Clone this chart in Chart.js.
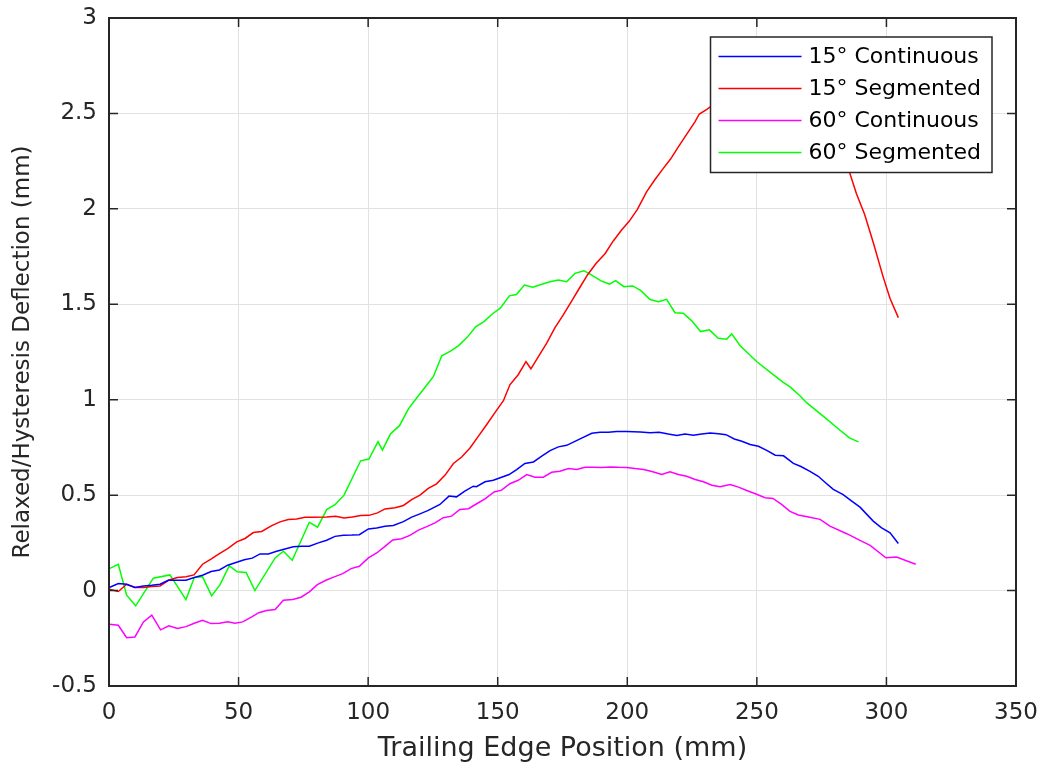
<!DOCTYPE html>
<html>
<head>
<meta charset="utf-8">
<title>Relaxed/Hysteresis Deflection</title>
<script src="https://cdn.jsdelivr.net/npm/chart.js@4.4.1/dist/chart.umd.min.js"></script>
<style>
    html, body { margin: 0; padding: 0; background: #fff; }
    canvas { display: block; }
</style>
</head>
<body>
<canvas id="deflectionChart" width="1039" height="769"></canvas>
<script>
const seriesNames = ['15° Continuous', '15° Segmented', '60° Continuous', '60° Segmented'];
const seriesColors = ['#0000ff', '#ff0000', '#ff00ff', '#00ff00'];

const xTicks = [0, 50, 100, 150, 200, 250, 300, 350];
const yTicks = [-0.5, 0, 0.5, 1, 1.5, 2, 2.5, 3];

// 15° Continuous
const cont15X = [0.1, 3.6, 6.8, 10.0, 13.3, 16.5, 19.7, 22.9, 26.4, 29.7, 32.9, 36.1, 39.4, 42.6, 45.8, 49.0, 52.2, 55.3, 58.3, 61.5,
    64.7, 67.9, 71.1, 74.4, 77.3, 80.8, 84.0, 87.2, 90.5, 93.7, 96.6, 100.1, 103.3, 106.5, 109.7, 113.6, 116.8, 120.0, 123.2, 127.7,
    131.2, 134.1, 137.3, 140.6, 141.8, 145.1, 148.3, 151.5, 154.4, 157.3, 160.5, 163.8, 167.0, 170.2, 173.4, 176.6, 179.8, 183.0, 186.3, 189.5,
    192.7, 195.9, 199.8, 205.0, 208.8, 212.3, 215.8, 219.1, 222.3, 225.5, 228.7, 232.0, 235.2, 238.1, 241.3, 244.2, 247.4, 250.6, 253.8, 257.1,
    260.3, 264.1, 267.0, 270.5, 273.7, 276.5, 279.5, 283.3, 286.5, 289.8, 294.9, 298.0, 301.4, 304.6];
const cont15Y = [0.016, 0.037, 0.033, 0.016, 0.024, 0.028, 0.033, 0.054, 0.054, 0.054, 0.068, 0.080, 0.100, 0.108, 0.133, 0.147, 0.161, 0.170, 0.192, 0.192,
    0.206, 0.218, 0.229, 0.232, 0.232, 0.250, 0.264, 0.284, 0.290, 0.291, 0.293, 0.323, 0.328, 0.337, 0.341, 0.361, 0.385, 0.402, 0.420, 0.451,
    0.495, 0.491, 0.521, 0.547, 0.544, 0.570, 0.578, 0.594, 0.608, 0.634, 0.666, 0.674, 0.704, 0.733, 0.753, 0.761, 0.782, 0.803, 0.824, 0.829,
    0.829, 0.834, 0.833, 0.831, 0.827, 0.830, 0.820, 0.812, 0.820, 0.814, 0.820, 0.826, 0.822, 0.817, 0.794, 0.782, 0.765, 0.756, 0.735, 0.709,
    0.706, 0.666, 0.650, 0.625, 0.599, 0.565, 0.530, 0.503, 0.470, 0.437, 0.364, 0.330, 0.303, 0.247];

// 15° Segmented (part behind the legend is estimated)
const seg15X = [0.1, 3.6, 6.8, 10.0, 13.3, 16.5, 19.7, 22.9, 26.4, 29.7, 32.8, 36.1, 39.2, 42.6, 45.8, 49.3, 52.5, 55.7, 58.9, 62.8,
    66.0, 69.2, 72.4, 75.6, 78.8, 84.0, 87.5, 90.7, 93.9, 97.1, 100.4, 103.6, 106.5, 110.4, 113.6, 116.8, 120.0, 123.2, 126.4, 129.7,
    132.9, 136.1, 139.3, 142.5, 145.7, 149.0, 152.2, 154.7, 157.9, 160.9, 162.8, 165.7, 168.9, 172.1, 175.3, 178.4, 181.5, 184.7, 188.0, 191.4,
    194.6, 197.8, 200.8, 203.9, 207.5, 210.7, 213.9, 216.7, 219.7, 222.9, 226.1, 227.8, 230.7, 232.6, 237, 242, 248, 254, 259, 264,
    270, 276, 281, 285.8, 288.4, 291.6, 295.0, 298.7, 301.4, 304.6];
const seg15Y = [0.007, -0.005, 0.033, 0.016, 0.016, 0.021, 0.024, 0.054, 0.068, 0.072, 0.082, 0.138, 0.164, 0.194, 0.220, 0.255, 0.273, 0.304, 0.310, 0.340,
    0.360, 0.372, 0.375, 0.384, 0.384, 0.386, 0.389, 0.380, 0.386, 0.393, 0.394, 0.407, 0.428, 0.434, 0.446, 0.477, 0.500, 0.535, 0.559, 0.605,
    0.666, 0.700, 0.747, 0.808, 0.869, 0.934, 0.995, 1.078, 1.131, 1.200, 1.162, 1.226, 1.296, 1.378, 1.444, 1.514, 1.584, 1.655, 1.715, 1.765,
    1.832, 1.889, 1.936, 1.997, 2.090, 2.154, 2.212, 2.261, 2.325, 2.390, 2.456, 2.497, 2.521, 2.540, 2.60, 2.67, 2.73, 2.77, 2.78, 2.72,
    2.56, 2.42, 2.30, 2.19, 2.08, 1.97, 1.82, 1.645, 1.53, 1.43];

// 60° Continuous
const cont60X = [0.1, 3.6, 6.8, 10.0, 13.3, 16.5, 19.9, 23.1, 26.4, 29.7, 32.9, 36.1, 39.4, 42.6, 45.8, 48.6, 51.6, 55.1, 57.8, 60.8,
    64.1, 67.3, 70.9, 74.1, 77.3, 80.4, 83.7, 86.9, 90.2, 93.4, 96.6, 100.1, 103.3, 106.5, 109.5, 112.9, 116.1, 119.4, 122.6, 125.8,
    129.0, 132.2, 135.4, 138.7, 141.9, 145.1, 148.6, 151.5, 154.7, 157.9, 161.2, 164.4, 167.6, 170.8, 174.0, 177.3, 180.5, 183.7, 186.9, 190.1,
    193.4, 196.6, 199.8, 203.0, 206.3, 209.5, 213.3, 216.5, 219.7, 222.9, 226.2, 229.4, 232.6, 235.8, 239.7, 242.9, 246.1, 249.4, 253.2, 256.2,
    259.4, 262.8, 266.0, 269.9, 274.4, 278.2, 284.7, 289.8, 293.7, 299.8, 303.9, 311.3];
const cont60Y = [-0.177, -0.182, -0.247, -0.243, -0.164, -0.129, -0.206, -0.185, -0.198, -0.189, -0.171, -0.156, -0.173, -0.171, -0.163, -0.171, -0.164, -0.138, -0.116, -0.105,
    -0.099, -0.051, -0.047, -0.035, -0.007, 0.031, 0.054, 0.072, 0.089, 0.115, 0.127, 0.171, 0.197, 0.232, 0.265, 0.272, 0.289, 0.317, 0.335, 0.355,
    0.382, 0.390, 0.425, 0.429, 0.455, 0.481, 0.517, 0.526, 0.560, 0.578, 0.608, 0.594, 0.594, 0.620, 0.625, 0.639, 0.634, 0.646, 0.646, 0.645,
    0.648, 0.646, 0.645, 0.639, 0.634, 0.624, 0.608, 0.622, 0.608, 0.599, 0.582, 0.570, 0.552, 0.544, 0.556, 0.542, 0.524, 0.507, 0.486, 0.483,
    0.453, 0.415, 0.396, 0.385, 0.373, 0.338, 0.298, 0.263, 0.237, 0.172, 0.176, 0.138];

// 60° Segmented
const seg60X = [0.1, 3.6, 6.8, 10.3, 17.1, 23.5, 29.7, 32.9, 36.1, 39.6, 42.8, 46.4, 49.5, 52.9, 56.3, 64.1, 67.3, 70.7, 77.3, 80.5,
    84.0, 87.2, 90.7, 97.1, 100.3, 103.8, 105.5, 108.6, 112.1, 115.5, 118.7, 121.9, 125.2, 128.4, 131.6, 134.8, 138.3, 141.5, 144.7, 147.9,
    151.1, 154.5, 157.2, 160.3, 163.5, 167.0, 170.2, 173.4, 176.6, 179.8, 183.3, 186.3, 189.7, 193.1, 195.5, 198.7, 202.1, 205.1, 208.8, 212.0,
    215.2, 218.4, 221.6, 224.9, 228.3, 231.7, 235.1, 238.3, 240.3, 243.5, 249.9, 256.3, 260.2, 262.8, 266.6, 269.3, 275.7, 282.1, 285.7, 289.2];
const seg60Y = [0.115, 0.138, -0.024, -0.080, 0.065, 0.082, -0.047, 0.068, 0.072, -0.028, 0.030, 0.129, 0.098, 0.095, 0.000, 0.171, 0.206, 0.159, 0.358, 0.332,
    0.424, 0.450, 0.500, 0.680, 0.689, 0.780, 0.736, 0.820, 0.864, 0.951, 1.009, 1.064, 1.122, 1.230, 1.253, 1.282, 1.328, 1.382, 1.409, 1.449,
    1.481, 1.544, 1.551, 1.601, 1.589, 1.605, 1.618, 1.627, 1.618, 1.662, 1.676, 1.653, 1.624, 1.606, 1.624, 1.592, 1.596, 1.573, 1.525, 1.514,
    1.526, 1.456, 1.453, 1.413, 1.357, 1.366, 1.322, 1.317, 1.345, 1.284, 1.200, 1.131, 1.091, 1.067, 1.021, 0.983, 0.913, 0.840, 0.800, 0.779];

const seriesX = [cont15X, seg15X, cont60X, seg60X];
const seriesY = [cont15Y, seg15Y, cont60Y, seg60Y];

const inkColor = '#262626';
const fontFamily = '"DejaVu Sans", "Liberation Sans", sans-serif';

function toPoints(xs, ys) {
    const n = Math.min(xs.length, ys.length);
    const pts = [];
    for (let i = 0; i < n; i++) pts.push({ x: xs[i], y: ys[i] });
    return pts;
}

// MATLAB-style box with inward ticks on all four sides
const axesBox = {
    id: 'axesBox',
    afterDatasetsDraw(chart) {
        const { ctx, chartArea: a, scales: { x, y } } = chart;
        const len = 9;
        ctx.save();
        ctx.strokeStyle = inkColor;
        ctx.lineWidth = 1.5;
        ctx.beginPath();
        xTicks.forEach(v => {
            const px = x.getPixelForValue(v);
            ctx.moveTo(px, a.bottom); ctx.lineTo(px, a.bottom - len);
            ctx.moveTo(px, a.top); ctx.lineTo(px, a.top + len);
        });
        yTicks.forEach(v => {
            const py = y.getPixelForValue(v);
            ctx.moveTo(a.left, py); ctx.lineTo(a.left + len, py);
            ctx.moveTo(a.right, py); ctx.lineTo(a.right - len, py);
        });
        ctx.stroke();
        ctx.lineWidth = 2;
        ctx.strokeRect(a.left, a.top, a.right - a.left, a.bottom - a.top);
        ctx.restore();
    }
};

// opaque legend box in the upper right of the axes
const boxLegend = {
    id: 'boxLegend',
    afterDraw(chart) {
        const { ctx, chartArea: a } = chart;
        const sets = chart.data.datasets;
        ctx.save();
        ctx.font = '22px ' + fontFamily;
        const textW = Math.max(...sets.map(d => ctx.measureText(d.label).width));
        const sample = 83, gap = 7, padL = 8, padR = 11, rowH = 32;
        const w = padL + sample + gap + textW + padR;
        const h = 19.5 + rowH * (sets.length - 1) + 20;
        const left = a.right - 24 - w;
        const top = a.top + 19;
        ctx.fillStyle = '#ffffff';
        ctx.fillRect(left, top, w, h);
        ctx.strokeStyle = inkColor;
        ctx.lineWidth = 1.5;
        ctx.strokeRect(left, top, w, h);
        ctx.textBaseline = 'middle';
        ctx.textAlign = 'left';
        sets.forEach((d, i) => {
            const cy = top + 19.5 + rowH * i;
            ctx.strokeStyle = d.borderColor;
            ctx.lineWidth = 1.5;
            ctx.beginPath();
            ctx.moveTo(left + padL, cy);
            ctx.lineTo(left + padL + sample, cy);
            ctx.stroke();
            ctx.fillStyle = '#000000';
            ctx.fillText(d.label, left + padL + sample + gap, cy + 1);
        });
        ctx.restore();
    }
};

const ctx = document.getElementById('deflectionChart').getContext('2d');
new Chart(ctx, {
    type: 'line',
    data: {
        datasets: seriesNames.map((name, i) => ({
            label: name,
            data: toPoints(seriesX[i], seriesY[i]),
            borderColor: seriesColors[i],
            backgroundColor: seriesColors[i],
            borderWidth: 1.5,
            pointRadius: 0,
            tension: 0,
            fill: false
        }))
    },
    options: {
        responsive: false,
        animation: false,
        devicePixelRatio: 1,
        layout: { padding: { top: 18, right: 23, left: 0, bottom: 0 } },
        plugins: {
            legend: { display: false },
            tooltip: { enabled: false }
        },
        scales: {
            x: {
                type: 'linear',
                min: 0,
                max: 350,
                afterBuildTicks: scale => { scale.ticks = xTicks.map(v => ({ value: v })); },
                afterFit: scale => {
                    scale.height = 83;
                    scale.paddingLeft = 0;
                    scale.paddingRight = 0;
                },
                grid: { color: '#e2e2e2', lineWidth: 1, drawTicks: false },
                border: { display: false },
                ticks: {
                    padding: 13,
                    maxRotation: 0,
                    color: inkColor,
                    font: { family: fontFamily, size: 23 },
                    callback: v => String(v)
                },
                title: {
                    display: true,
                    text: 'Trailing Edge Position (mm)',
                    color: inkColor,
                    font: { family: fontFamily, size: 27 },
                    padding: { top: 0, bottom: 4 }
                }
            },
            y: {
                type: 'linear',
                min: -0.5,
                max: 3,
                afterBuildTicks: scale => { scale.ticks = yTicks.map(v => ({ value: v })); },
                afterFit: scale => {
                    scale.width = 109;
                    scale.paddingTop = 0;
                    scale.paddingBottom = 0;
                },
                grid: { color: '#e2e2e2', lineWidth: 1, drawTicks: false },
                border: { display: false },
                ticks: {
                    padding: 12,
                    color: inkColor,
                    font: { family: fontFamily, size: 23 },
                    callback: v => String(v)
                },
                title: {
                    display: true,
                    text: 'Relaxed/Hysteresis Deflection (mm)',
                    color: inkColor,
                    font: { family: fontFamily, size: 23 },
                    padding: { top: 9, bottom: 0 }
                }
            }
        }
    },
    plugins: [axesBox, boxLegend]
});
</script>
</body>
</html>
